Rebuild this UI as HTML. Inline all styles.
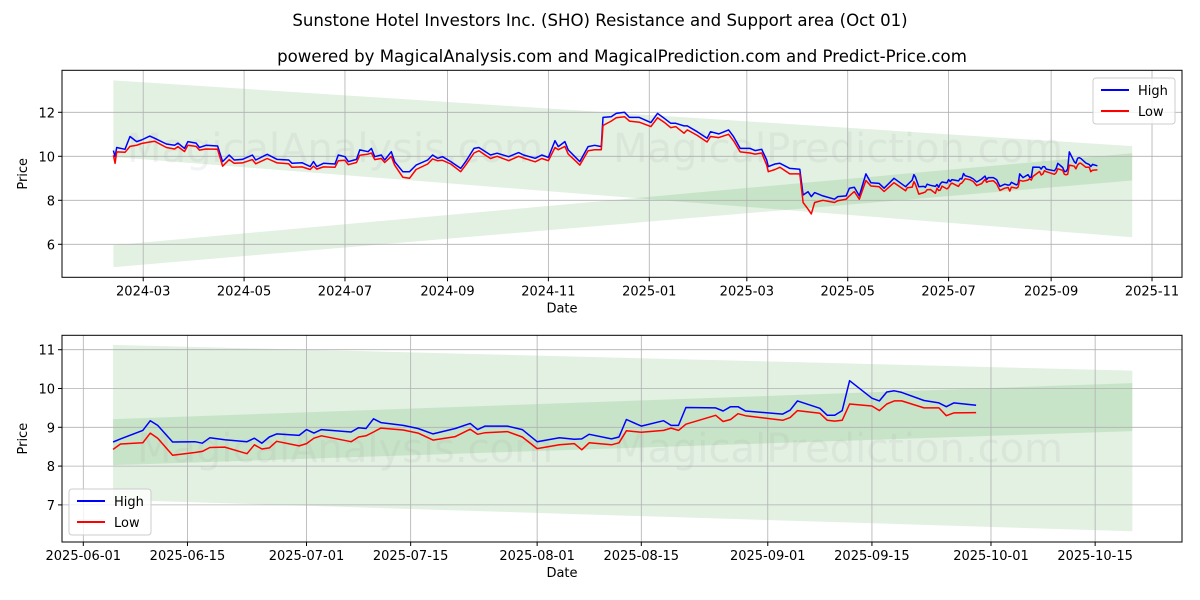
<!DOCTYPE html>
<html><head><meta charset="utf-8"><style>
body{margin:0;background:#fff;}
svg{display:block;font-family:"DejaVu Sans","Liberation Sans",sans-serif;}
</style></head><body>
<svg id="chart" width="1200" height="600" viewBox="0 0 1200 600" xmlns="http://www.w3.org/2000/svg">
<rect width="1200" height="600" fill="#fff"/>
<text x="600" y="26" text-anchor="middle" font-size="16.6">Sunstone Hotel Investors Inc. (SHO) Resistance and Support area (Oct 01)</text>
<text x="622" y="62" text-anchor="middle" font-size="16.6">powered by MagicalAnalysis.com and MagicalPrediction.com and Predict-Price.com</text>
<g id="top"></g>
<g id="bot"></g>
</svg>
<script>
const dates=["2024-02-12","2024-02-13","2024-02-14","2024-02-19","2024-02-22","2024-02-26","2024-02-29","2024-03-05","2024-03-08","2024-03-15","2024-03-20","2024-03-22","2024-03-26","2024-03-28","2024-04-02","2024-04-04","2024-04-08","2024-04-15","2024-04-18","2024-04-22","2024-04-25","2024-04-30","2024-05-06","2024-05-08","2024-05-15","2024-05-21","2024-05-28","2024-05-30","2024-06-05","2024-06-10","2024-06-12","2024-06-14","2024-06-18","2024-06-25","2024-06-27","2024-07-01","2024-07-03","2024-07-08","2024-07-10","2024-07-15","2024-07-17","2024-07-19","2024-07-23","2024-07-25","2024-07-29","2024-07-31","2024-08-05","2024-08-09","2024-08-13","2024-08-20","2024-08-23","2024-08-26","2024-08-29","2024-09-03","2024-09-09","2024-09-12","2024-09-17","2024-09-20","2024-09-24","2024-09-27","2024-10-01","2024-10-08","2024-10-14","2024-10-17","2024-10-24","2024-10-28","2024-11-01","2024-11-05","2024-11-07","2024-11-11","2024-11-13","2024-11-18","2024-11-20","2024-11-25","2024-11-29","2024-12-03","2024-12-04","2024-12-09","2024-12-12","2024-12-17","2024-12-20","2024-12-26","2025-01-02","2025-01-06","2025-01-10","2025-01-14","2025-01-17","2025-01-22","2025-01-24","2025-01-30","2025-02-05","2025-02-07","2025-02-12","2025-02-18","2025-02-21","2025-02-25","2025-03-03","2025-03-06","2025-03-10","2025-03-13","2025-03-14","2025-03-18","2025-03-21","2025-03-27","2025-04-02","2025-04-04","2025-04-07","2025-04-09","2025-04-11","2025-04-16","2025-04-23","2025-04-25","2025-04-30","2025-05-02","2025-05-05","2025-05-08","2025-05-12","2025-05-15","2025-05-20","2025-05-23","2025-05-29","2025-06-05","2025-06-06","2025-06-09","2025-06-10","2025-06-11","2025-06-13","2025-06-16","2025-06-17","2025-06-18","2025-06-20","2025-06-23","2025-06-24","2025-06-25","2025-06-26","2025-06-27","2025-06-30","2025-07-01","2025-07-02","2025-07-03","2025-07-07","2025-07-08","2025-07-09","2025-07-10","2025-07-11","2025-07-14","2025-07-16","2025-07-18","2025-07-21","2025-07-23","2025-07-24","2025-07-25","2025-07-28","2025-07-30","2025-08-01","2025-08-04","2025-08-06","2025-08-07","2025-08-08","2025-08-11","2025-08-12","2025-08-13","2025-08-15","2025-08-18","2025-08-19","2025-08-20","2025-08-21","2025-08-25","2025-08-26","2025-08-27","2025-08-28","2025-08-29","2025-09-03","2025-09-04","2025-09-05","2025-09-08","2025-09-09","2025-09-10","2025-09-11","2025-09-12","2025-09-15","2025-09-16","2025-09-17","2025-09-18","2025-09-19","2025-09-22","2025-09-24","2025-09-25","2025-09-26","2025-09-29"];
const highs=[10.26,9.98,10.40,10.32,10.90,10.67,10.74,10.92,10.82,10.56,10.50,10.60,10.36,10.67,10.60,10.40,10.50,10.47,9.76,10.06,9.83,9.86,10.06,9.83,10.09,9.86,9.83,9.68,9.71,9.53,9.76,9.53,9.68,9.65,10.06,9.98,9.76,9.86,10.29,10.21,10.36,9.98,10.06,9.83,10.21,9.76,9.30,9.30,9.60,9.83,10.06,9.91,9.98,9.76,9.45,9.76,10.36,10.40,10.21,10.06,10.14,9.98,10.17,10.06,9.91,10.06,9.95,10.71,10.44,10.67,10.29,9.91,9.76,10.44,10.50,10.44,11.77,11.80,11.95,12.00,11.77,11.77,11.53,11.95,11.73,11.50,11.50,11.38,11.38,11.12,10.82,11.12,11.02,11.20,10.89,10.36,10.36,10.26,10.32,9.83,9.53,9.65,9.68,9.45,9.41,8.24,8.39,8.17,8.35,8.20,8.05,8.17,8.20,8.55,8.59,8.20,9.20,8.80,8.77,8.55,9.00,8.62,8.70,8.92,9.17,9.05,8.62,8.63,8.59,8.73,8.68,8.63,8.72,8.59,8.75,8.83,8.79,8.94,8.85,8.94,8.88,8.99,8.97,9.22,9.12,9.05,8.97,8.83,8.97,9.10,8.94,9.03,9.03,8.94,8.63,8.73,8.69,8.70,8.82,8.70,8.75,9.20,9.03,9.17,9.05,9.05,9.51,9.50,9.42,9.53,9.53,9.42,9.34,9.44,9.68,9.49,9.31,9.31,9.43,10.20,9.75,9.68,9.91,9.94,9.90,9.69,9.63,9.53,9.63,9.57];
const lows=[10.05,9.68,10.20,10.18,10.45,10.50,10.58,10.65,10.68,10.40,10.33,10.44,10.22,10.50,10.45,10.28,10.33,10.32,9.55,9.85,9.68,9.70,9.85,9.66,9.90,9.70,9.66,9.50,9.52,9.40,9.55,9.42,9.52,9.50,9.80,9.82,9.62,9.72,10.05,10.10,10.15,9.85,9.90,9.72,10.00,9.60,9.05,9.00,9.40,9.65,9.88,9.80,9.82,9.65,9.30,9.60,10.15,10.25,10.05,9.90,10.00,9.80,10.00,9.92,9.75,9.90,9.80,10.40,10.30,10.45,10.10,9.75,9.60,10.25,10.30,10.30,11.40,11.60,11.75,11.80,11.60,11.55,11.35,11.75,11.55,11.30,11.35,11.05,11.20,10.95,10.65,10.90,10.85,11.00,10.70,10.20,10.15,10.10,10.15,9.60,9.30,9.40,9.50,9.20,9.20,7.90,7.60,7.38,7.90,8.00,7.90,7.98,8.05,8.20,8.40,8.05,8.90,8.65,8.62,8.40,8.80,8.43,8.57,8.60,8.85,8.72,8.28,8.35,8.38,8.48,8.49,8.32,8.55,8.44,8.47,8.64,8.52,8.58,8.72,8.78,8.63,8.75,8.78,8.88,8.98,8.93,8.85,8.67,8.76,8.95,8.82,8.86,8.89,8.75,8.45,8.55,8.58,8.42,8.60,8.55,8.60,8.91,8.87,8.92,8.98,8.92,9.08,9.31,9.15,9.20,9.35,9.30,9.18,9.25,9.43,9.36,9.18,9.16,9.18,9.60,9.55,9.43,9.60,9.68,9.68,9.50,9.50,9.30,9.37,9.38];
const bandDates=["2024-02-12","2025-10-20"];
const resistTop=[13.45,10.46];
const resistBottom=[9.97,6.32];
const supportTop=[5.96,10.14];
const supportBottom=[4.96,8.90];
const topTicksX=["2024-03","2024-05","2024-07","2024-09","2024-11","2025-01","2025-03","2025-05","2025-07","2025-09","2025-11"];
const topTicksY=[6,8,10,12];
const botTicksX=["2025-06-01","2025-06-15","2025-07-01","2025-07-15","2025-08-01","2025-08-15","2025-09-01","2025-09-15","2025-10-01","2025-10-15"];
const botTicksY=[7,8,9,10,11];
const botStart="2025-06-05";

const NS="http://www.w3.org/2000/svg";
const DAY=86400000;
function T(s){const p=s.split("-").map(Number);return Date.UTC(p[0],p[1]-1,p[2]||1);}
function mk(parent,tag,attrs,txt){const e=document.createElementNS(NS,tag);for(const k in attrs)e.setAttribute(k,attrs[k]);if(txt!==undefined)e.textContent=txt;parent.appendChild(e);return e;}
function bandVal(arr,t){const t0=T(bandDates[0]),t1=T(bandDates[1]);return arr[0]+(arr[1]-arr[0])*(t-t0)/(t1-t0);}

function drawPanel(g,cfg){
  const L=62,R=1182,Tp=cfg.top,B=cfg.bottom;
  const X=t=>cfg.x0+(t-T(cfg.xRef))/DAY*cfg.pxDay;
  const Y=v=>cfg.yRef-(v-cfg.vRef)*cfg.pxUnit;
  const clipId=cfg.id+"-clip";
  const defs=mk(g,"defs",{});
  const cp=mk(defs,"clipPath",{id:clipId});
  mk(cp,"rect",{x:L,y:Tp,width:R-L,height:B-Tp});
  const plot=mk(g,"g",{"clip-path":"url(#"+clipId+")"});
  const ts=T(cfg.bandStart),te=T(bandDates[1]);
  [[resistTop,resistBottom,"resistance-band"],[supportTop,supportBottom,"support-band"]].forEach(b=>{
    const pts=[[X(ts),Y(bandVal(b[0],ts))],[X(te),Y(bandVal(b[0],te))],[X(te),Y(bandVal(b[1],te))],[X(ts),Y(bandVal(b[1],ts))]];
    const p=mk(plot,"polygon",{points:pts.map(q=>q.join(",")).join(" "),fill:"green","fill-opacity":"0.114"});
    
    
  });
  cfg.ticksX.forEach(s=>{const x=X(T(s));mk(plot,"line",{x1:x,x2:x,y1:Tp,y2:B,stroke:"#b0b0b0","stroke-width":0.8});});
  cfg.ticksY.forEach(v=>{const y=Y(v);mk(plot,"line",{x1:L,x2:R,y1:y,y2:y,stroke:"#b0b0b0","stroke-width":0.8});});
  cfg.marks.forEach(m=>{const w=mk(plot,"text",{x:m[0],y:m[1],"font-size":40,fill:"#999","fill-opacity":"0.12","text-anchor":"middle"},m[2]);
    });
  const tStart=T(cfg.dataStart);
  [[highs,"blue","high-line"],[lows,"red","low-line"]].forEach(s=>{
    const pts=[];dates.forEach((d,i)=>{const t=T(d);if(t>=tStart)pts.push(X(t).toFixed(1)+","+Y(s[0][i]).toFixed(1));});
    const pl=mk(plot,"polyline",{points:pts.join(" "),fill:"none",stroke:s[1],"stroke-width":1.5,"stroke-linejoin":"round"});
    
    
  });
  mk(g,"rect",{x:L,y:Tp,width:R-L,height:B-Tp,fill:"none",stroke:"#000","stroke-width":1});
  cfg.ticksX.forEach(s=>{const x=X(T(s));mk(g,"line",{x1:x,x2:x,y1:B,y2:B+4,stroke:"#000"});
    const tl=mk(g,"text",{x:x,y:B+18,"font-size":13,"text-anchor":"middle"},s);
    });
  cfg.ticksY.forEach(v=>{const y=Y(v);mk(g,"line",{x1:L-4,x2:L,y1:y,y2:y,stroke:"#000"});
    const tl=mk(g,"text",{x:L-7,y:y+5,"font-size":13,"text-anchor":"end"},String(v));
    });
  const xt=mk(g,"text",{x:(L+R)/2-60,y:B+35,"font-size":13,"text-anchor":"middle"},"Date");
  
  const yt=mk(g,"text",{x:0,y:0,"font-size":13,"text-anchor":"middle",transform:"translate(27,"+((Tp+B)/2)+") rotate(-90)"},"Price");
  
  const lg=mk(g,"g",{});
  
  const [lx,ly]=cfg.legend;
  mk(lg,"rect",{x:lx,y:ly,width:82,height:46,rx:3,fill:"#fff","fill-opacity":0.8,stroke:"#ccc"});
  [["High","blue",ly+12],["Low","red",ly+33]].forEach(e=>{
    const eg=mk(lg,"g",{});
    
    mk(eg,"line",{x1:lx+8,x2:lx+36,y1:e[2],y2:e[2],stroke:e[1],"stroke-width":2});
    mk(eg,"text",{x:lx+45,y:e[2]+5,"font-size":13},e[0]);
  });
}
drawPanel(document.getElementById("top"),{id:"top",top:70.3,bottom:277.3,x0:143.2,xRef:"2024-03-01",pxDay:1.6538,
  yRef:156.3,vRef:10,pxUnit:22,ticksX:topTicksX,ticksY:topTicksY,bandStart:bandDates[0],dataStart:dates[0],
  legend:[1093,78],marks:[[335,162,"MagicalAnalysis.com"],[838,162,"MagicalPrediction.com"],[335,313,"MagicalAnalysis.com"],[838,313,"MagicalPrediction.com"]]});
drawPanel(document.getElementById("bot"),{id:"bot",top:335.3,bottom:542,x0:83.3,xRef:"2025-06-01",pxDay:7.44,
  yRef:427.3,vRef:9,pxUnit:38.8,ticksX:botTicksX,ticksY:botTicksY,bandStart:botStart,dataStart:botStart,
  legend:[69,489],marks:[[345,462,"MagicalAnalysis.com"],[838,462,"MagicalPrediction.com"]]});
</script>
</body></html>
